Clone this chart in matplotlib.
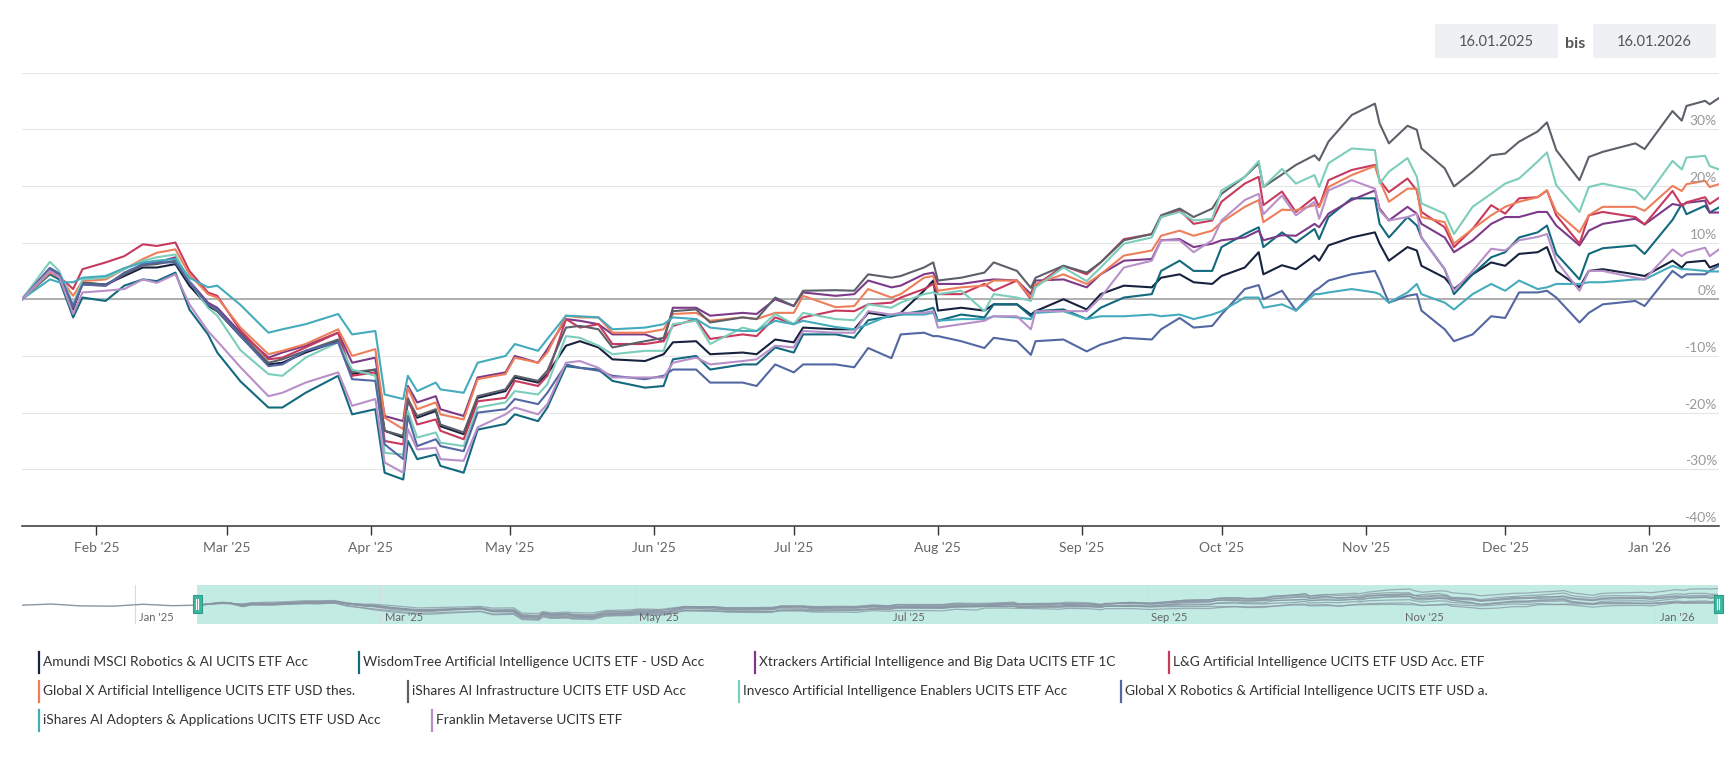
import matplotlib
matplotlib.use('Agg')
import matplotlib.pyplot as plt
import matplotlib.dates as mdates
from matplotlib.patches import Rectangle
import pandas as pd

plt.rcParams['font.family'] = ['Lato', 'DejaVu Sans']

# performance in % since 16.01.2025
dates = ['2025-01-16', '2025-01-22', '2025-01-24', '2025-01-27', '2025-01-29', '2025-02-03', '2025-02-07', '2025-02-11', '2025-02-14', '2025-02-18',
         '2025-02-21', '2025-02-25', '2025-02-27', '2025-03-04', '2025-03-10', '2025-03-13', '2025-03-18', '2025-03-25', '2025-03-28', '2025-04-02',
         '2025-04-04', '2025-04-08', '2025-04-09', '2025-04-11', '2025-04-15', '2025-04-16', '2025-04-21', '2025-04-24', '2025-04-30', '2025-05-02',
         '2025-05-07', '2025-05-09', '2025-05-13', '2025-05-16', '2025-05-20', '2025-05-23', '2025-05-30', '2025-06-03', '2025-06-05', '2025-06-10',
         '2025-06-13', '2025-06-20', '2025-06-23', '2025-06-27', '2025-07-01', '2025-07-03', '2025-07-10', '2025-07-14', '2025-07-17', '2025-07-22',
         '2025-07-24', '2025-07-29', '2025-07-31', '2025-08-01', '2025-08-06', '2025-08-11', '2025-08-13', '2025-08-18', '2025-08-21', '2025-08-22',
         '2025-08-28', '2025-09-02', '2025-09-05', '2025-09-10', '2025-09-16', '2025-09-18', '2025-09-22', '2025-09-25', '2025-09-29', '2025-10-01',
         '2025-10-06', '2025-10-09', '2025-10-10', '2025-10-14', '2025-10-17', '2025-10-21', '2025-10-22', '2025-10-24', '2025-10-29', '2025-11-03',
         '2025-11-04', '2025-11-06', '2025-11-10', '2025-11-12', '2025-11-13', '2025-11-18', '2025-11-20', '2025-11-24', '2025-11-28', '2025-12-01',
         '2025-12-04', '2025-12-08', '2025-12-10', '2025-12-12', '2025-12-17', '2025-12-19', '2025-12-22', '2025-12-29', '2025-12-31', '2026-01-06',
         '2026-01-08', '2026-01-09', '2026-01-13', '2026-01-14', '2026-01-16']

amundi = [0, 5.3, 4.4, -1.8, 2.9, 2.6, 4.1, 5.6, 5.6, 6.2,
          2.4, -1.2, -2.1, -6.5, -11.5, -11.2, -9.4, -7.4, -13.2, -12.4,
          -23.2, -24.4, -17.9, -20.9, -19.7, -22.4, -23.8, -17.4, -16.2, -13.8,
          -14.7, -13.2, -8.2, -7.4, -8.5, -10.6, -10.9, -9.7, -7.6, -7.4,
          -9.7, -9.4, -9.7, -7.1, -7.6, -5.0, -5.3, -5.3, -2.4, -3.0,
          -2.4, 1.5, 3.3, -2.0, -1.5, -2.0, -0.9, -0.9, -2.7, -2.1,
          0.0, -1.8, 0.9, 2.4, 2.1, 3.8, 4.4, 3.0, 2.7, 4.1,
          5.6, 8.3, 4.4, 6.0, 5.3, 7.7, 6.8, 9.5, 10.9, 11.8,
          9.8, 6.8, 9.2, 8.6, 5.9, 3.8, 1.8, 4.4, 6.5, 5.9,
          8.0, 8.3, 9.2, 5.0, 2.1, 5.0, 5.3, 4.4, 4.1, 6.8,
          5.6, 6.5, 6.8, 5.6, 6.2]
wisdomtree = [0, 4.4, 3.5, -3.2, 0.3, -0.3, 2.4, 3.5, 3.2, 4.7,
              -1.8, -6.2, -9.4, -14.5, -19.1, -19.1, -16.5, -13.5, -20.3, -19.4,
              -30.6, -31.8, -25.0, -28.2, -27.4, -29.4, -30.6, -23.0, -22.0, -20.3,
              -21.5, -19.1, -11.8, -12.1, -12.4, -14.4, -15.6, -15.3, -10.6, -10.0,
              -12.4, -11.5, -11.5, -8.5, -9.4, -6.2, -6.2, -6.8, -3.7, -3.0,
              -2.7, -2.0, -1.5, -3.8, -2.7, -3.2, -0.9, -0.9, -3.0, -2.1,
              -1.8, -3.5, -1.5, 0.3, 0.9, 5.0, 6.8, 5.0, 5.0, 9.2,
              11.5, 12.7, 9.2, 11.8, 10.0, 12.4, 10.6, 14.5, 17.8, 17.8,
              13.3, 10.9, 14.5, 13.0, 10.9, 5.3, 0.9, 4.4, 7.4, 8.3,
              10.9, 11.8, 13.0, 8.0, 3.5, 8.0, 9.0, 9.5, 8.0, 14.0,
              16.8, 15.0, 16.5, 15.3, 16.2]
xtrackers = [0, 5.5, 4.5, -1.5, 2.6, 2.4, 4.4, 6.2, 6.5, 7.4,
             3.2, -0.6, -1.5, -5.9, -10.3, -9.4, -8.2, -5.9, -11.2, -10.3,
             -20.6, -21.5, -15.3, -18.2, -17.1, -19.4, -20.6, -13.8, -12.9, -10.0,
             -11.2, -8.8, -3.5, -3.8, -4.4, -6.2, -6.2, -7.4, -1.5, -1.5,
             -2.9, -2.4, -2.6, 0.0, -1.2, 1.2, 0.6, 0.9, 3.3, 2.1,
             2.4, 4.4, 4.7, 2.7, 2.7, 3.3, 3.5, 3.3, 0.9, 3.3,
             3.5, 2.1, 4.4, 6.8, 7.1, 10.4, 10.6, 9.2, 9.8, 10.4,
             10.9, 12.1, 10.4, 11.3, 11.2, 13.3, 12.7, 15.1, 17.5, 19.2,
             16.0, 13.9, 16.3, 15.1, 13.3, 10.9, 8.3, 10.4, 13.3, 14.5,
             14.5, 15.4, 15.4, 13.0, 9.5, 12.1, 13.3, 14.2, 13.2, 16.8,
             16.5, 17.0, 17.4, 15.3, 15.3]
lg = [0, 5.0, 4.0, 1.8, 5.3, 6.5, 7.6, 9.7, 9.4, 10.0,
      5.0, 1.2, 0.6, -5.5, -10.6, -10.3, -8.5, -5.9, -13.5, -12.9,
      -25.0, -25.6, -17.4, -22.1, -21.2, -23.2, -24.7, -18.0, -17.4, -14.4,
      -15.3, -13.5, -3.5, -5.0, -4.4, -7.9, -7.9, -7.4, -4.7, -3.5,
      -7.0, -6.2, -6.5, -3.2, -4.4, -3.2, -2.0, -2.1, -0.9, -0.6,
      0.3, 1.8, 2.7, 0.9, 0.9, 2.7, 1.5, 3.3, 0.0, 2.4,
      5.9, 4.4, 6.5, 10.6, 11.5, 14.5, 15.7, 13.3, 13.9, 17.2,
      20.4, 21.6, 16.6, 19.0, 15.4, 18.0, 16.3, 21.0, 22.8, 23.7,
      21.0, 18.9, 21.3, 19.2, 15.4, 12.7, 9.2, 12.4, 16.6, 15.1,
      17.8, 18.0, 19.2, 14.8, 9.8, 14.8, 15.4, 14.5, 13.2, 19.1,
      16.5, 17.1, 18.0, 16.8, 17.9]
globalx_ai = [0, 4.7, 4.0, 0.6, 3.2, 3.5, 5.3, 7.1, 8.2, 8.8,
              4.4, 0.9, 0.3, -5.0, -9.7, -9.1, -7.9, -5.3, -10.0, -8.8,
              -20.9, -22.9, -15.6, -19.4, -18.2, -20.3, -21.2, -14.1, -13.2, -10.3,
              -11.2, -9.4, -2.9, -3.2, -3.2, -5.9, -5.9, -5.3, -2.6, -2.4,
              -3.8, -3.2, -3.5, -2.4, -2.4, 0.6, -1.4, -1.2, 1.8, 0.3,
              0.9, 3.8, 4.1, 1.5, 2.1, 2.4, 3.3, 3.3, 0.3, 2.7,
              4.4, 2.7, 4.4, 7.7, 8.6, 11.2, 12.1, 11.2, 12.1, 13.6,
              16.3, 17.5, 13.6, 15.8, 15.7, 16.6, 16.3, 19.8, 21.9, 23.5,
              21.0, 17.2, 19.5, 19.5, 14.5, 13.6, 9.8, 12.4, 14.8, 16.3,
              17.2, 18.0, 19.2, 15.4, 11.8, 14.8, 16.3, 16.3, 15.6, 20.0,
              19.1, 20.3, 20.9, 19.8, 20.3]
ishares_infra = [0, 5.3, 4.4, -1.5, 2.9, 2.6, 4.4, 6.0, 6.2, 6.8,
                 3.0, -0.9, -2.1, -6.2, -11.2, -10.6, -9.1, -7.1, -12.9, -12.4,
                 -23.2, -24.1, -17.6, -20.6, -19.4, -22.1, -23.5, -17.1, -15.9, -13.5,
                 -14.4, -12.6, -5.0, -4.7, -5.3, -8.5, -7.4, -6.8, -2.1, -1.8,
                 -4.1, -3.2, -3.5, 0.3, -1.2, 1.5, 1.6, 1.5, 4.4, 3.8,
                 4.1, 5.6, 6.5, 3.3, 3.8, 4.7, 6.5, 5.0, 2.0, 3.8,
                 5.9, 4.7, 6.5, 10.4, 11.5, 14.8, 16.0, 14.5, 16.0, 18.6,
                 21.6, 24.0, 19.8, 22.0, 23.7, 25.4, 24.5, 27.8, 32.5, 34.5,
                 31.0, 27.5, 30.6, 29.9, 26.6, 23.1, 19.9, 22.5, 25.4, 25.7,
                 27.8, 29.6, 31.2, 26.3, 21.0, 25.1, 26.0, 27.5, 26.5, 33.2,
                 31.5, 34.1, 35.0, 34.4, 35.5]
invesco = [0, 6.6, 5.0, -0.9, 3.5, 3.8, 5.3, 6.8, 7.4, 7.9,
           3.2, -1.5, -2.9, -9.0, -13.2, -13.5, -10.3, -7.6, -12.4, -13.5,
           -27.1, -27.4, -19.7, -24.4, -23.5, -25.3, -25.9, -19.1, -18.2, -16.2,
           -16.8, -15.0, -6.5, -6.8, -8.2, -9.7, -9.1, -9.1, -4.4, -3.8,
           -7.9, -5.0, -5.6, -2.6, -4.4, -2.4, -3.5, -3.7, -0.9, -1.5,
           -0.6, 0.9, 1.2, 0.9, 1.5, -2.1, 0.9, 0.3, -0.3, 2.1,
           5.6, 3.2, 5.6, 9.8, 10.9, 14.5, 15.4, 13.9, 14.2, 19.2,
           21.6, 24.4, 19.8, 23.0, 20.4, 21.9, 19.8, 24.0, 26.6, 26.3,
           20.4, 22.5, 24.9, 21.6, 16.9, 15.1, 11.5, 16.3, 18.6, 20.4,
           21.3, 24.3, 25.9, 20.1, 15.4, 19.8, 20.4, 19.2, 17.6, 24.4,
           22.9, 25.0, 25.3, 23.5, 22.9]
globalx_robotics = [0, 5.5, 4.5, -1.2, 2.6, 2.4, 4.7, 6.2, 6.5, 6.5,
                    3.0, -0.9, -1.8, -6.5, -11.8, -11.5, -9.1, -7.6, -14.1, -14.4,
                    -25.6, -28.2, -20.6, -25.9, -24.7, -25.9, -26.8, -20.0, -19.4, -17.6,
                    -18.5, -16.5, -11.5, -12.1, -12.6, -13.5, -14.1, -13.5, -12.4, -12.4,
                    -14.7, -14.7, -15.3, -11.5, -12.9, -11.5, -11.5, -12.0, -8.6, -10.4,
                    -6.2, -5.9, -6.5, -6.5, -7.4, -8.6, -6.8, -7.4, -9.8, -7.4,
                    -7.1, -9.2, -8.0, -6.8, -7.1, -5.3, -3.3, -5.0, -4.7, -2.7,
                    1.8, 2.5, 0.0, 1.5, -2.0, 1.5, 2.0, 3.3, 4.4, 5.0,
                    3.3, -0.6, 0.6, 0.9, -2.0, -5.3, -7.4, -6.2, -3.0, -3.3,
                    1.2, 1.2, 1.5, 0.3, -4.1, -2.4, -0.9, -0.3, -1.2, 5.0,
                    3.8, 4.4, 4.4, 5.0, 5.9]
ishares_adopters = [0, 3.5, 3.0, 3.0, 3.8, 4.1, 5.5, 6.5, 6.8, 7.1,
                    3.8, 2.1, 2.4, -1.0, -5.9, -5.3, -4.4, -2.6, -6.2, -5.6,
                    -16.8, -17.6, -13.5, -16.2, -14.7, -15.9, -16.5, -11.2, -10.0, -7.9,
                    -9.1, -7.0, -2.9, -3.0, -3.2, -5.3, -5.0, -4.4, -3.2, -3.5,
                    -5.0, -5.6, -5.6, -3.8, -4.4, -3.8, -4.9, -5.3, -4.4, -2.7,
                    -2.7, -2.7, -2.4, -3.8, -3.5, -3.5, -3.0, -3.2, -3.5, -2.4,
                    -2.1, -3.5, -3.0, -3.0, -2.7, -3.0, -2.7, -3.5, -2.7, -2.1,
                    0.3, 0.3, -1.5, -0.9, -2.0, 0.9, 0.9, 1.2, 1.8, 1.2,
                    0.9, -0.6, 1.2, 2.7, 0.9, -0.6, -1.8, 0.9, 2.7, 1.5,
                    3.3, 1.8, 2.1, 2.7, 2.7, 3.0, 3.0, 3.5, 3.5, 5.9,
                    5.3, 5.3, 5.0, 4.9, 4.9]
franklin = [0, 5.0, 4.0, -2.6, 1.2, 1.5, 1.8, 3.5, 2.9, 4.4,
            -0.9, -5.6, -7.4, -12.0, -17.1, -16.5, -14.7, -12.9, -18.8, -17.6,
            -28.8, -30.6, -22.9, -26.5, -26.2, -28.2, -28.5, -22.6, -20.3, -19.1,
            -20.3, -18.5, -11.2, -10.9, -12.1, -13.8, -13.8, -13.8, -11.2, -10.3,
            -11.5, -10.9, -10.6, -8.2, -8.5, -5.6, -5.9, -5.9, -2.1, -2.7,
            -2.4, -2.4, -2.1, -5.0, -4.4, -3.8, -3.0, -3.0, -5.3, -2.1,
            -2.1, -2.1, 0.3, 5.6, 6.8, 10.4, 10.4, 8.3, 10.4, 13.9,
            17.5, 18.6, 15.0, 18.3, 14.8, 17.2, 14.2, 19.2, 21.0, 19.5,
            15.7, 13.9, 14.5, 15.1, 10.9, 5.3, 1.5, 5.0, 8.9, 8.6,
            10.4, 11.0, 11.5, 6.8, 1.5, 5.0, 5.0, 3.8, 3.5, 8.8,
            7.6, 8.2, 9.1, 7.6, 8.8]

names = ['Amundi MSCI Robotics & AI UCITS ETF Acc',
         'WisdomTree Artificial Intelligence UCITS ETF - USD Acc',
         'Xtrackers Artificial Intelligence and Big Data UCITS ETF 1C',
         'L&G Artificial Intelligence UCITS ETF USD Acc. ETF',
         'Global X Artificial Intelligence UCITS ETF USD thes.',
         'iShares AI Infrastructure UCITS ETF USD Acc',
         'Invesco Artificial Intelligence Enablers UCITS ETF Acc',
         'Global X Robotics & Artificial Intelligence UCITS ETF USD a.',
         'iShares AI Adopters & Applications UCITS ETF USD Acc',
         'Franklin Metaverse UCITS ETF']
colors = ['#17223f', '#13697d', '#7d3a88', '#c73a5e', '#ee7e5a',
          '#5c6069', '#7ccdbb', '#5367a2', '#44abbd', '#b88fc8']
series = [amundi, wisdomtree, xtrackers, lg, globalx_ai,
          ishares_infra, invesco, globalx_robotics, ishares_adopters, franklin]

# navigator only: period before the selected range
nav_pre_dates = ['2024-12-05', '2024-12-12', '2024-12-19', '2024-12-27', '2025-01-03', '2025-01-10', '2025-01-16']
nav_pre_vals = [0.0, 2.5, -1.5, -2.0, 2.0, -1.0, 0.0]
nav_months = ['2025-01-01', '2025-03-01', '2025-05-01', '2025-07-01', '2025-09-01', '2025-11-01', '2026-01-01']

W, H = 1725, 767
fig = plt.figure(figsize=(W / 100, H / 100), dpi=100)


def fx(px):
    return px / W


def fy(py):
    return 1 - py / H


x = pd.to_datetime(dates)
start, end = pd.Timestamp('2025-01-16'), pd.Timestamp('2026-01-16')

# main chart
ax = fig.add_axes([fx(22), fy(526), fx(1719) - fx(22), fy(72.5) - fy(526)])
for vals, col in zip(series, colors):
    ax.plot(x, vals, color=col, lw=1.5, zorder=3)
ax.set_xlim(start, end)
ax.set_ylim(-40, 40)
ax.set_yticks(range(-40, 41, 10))
ax.yaxis.grid(True, color='#e6e6e6', lw=0.8)
ax.axhline(0, color='#ababab', lw=1.3, zorder=2)
ax.tick_params(axis='y', length=0, labelleft=False)
for s in ['top', 'left', 'right']:
    ax.spines[s].set_visible(False)
ax.spines['bottom'].set_color('#333333')
ax.spines['bottom'].set_linewidth(1.1)
ax.xaxis.set_major_locator(mdates.MonthLocator())
ax.xaxis.set_major_formatter(mdates.DateFormatter("%b '%y"))
ax.tick_params(axis='x', length=6.5, width=1, color='#333333',
               labelcolor='#666666', labelsize=10, pad=5)
for v in range(-40, 40, 10):
    ax.text(0.9988, v + 0.35, f'{v}%', transform=ax.get_yaxis_transform(),
            ha='right', va='bottom', fontsize=10, color='#999999')

# navigator
nav = fig.add_axes([fx(22), fy(624), fx(1718) - fx(22), fy(585) - fy(624)])
nav.set_xlim(pd.Timestamp('2024-12-05'), end)
nav.set_ylim(-40, 43)
nav.axvspan(start, end, color='#c2ebe4', lw=0, zorder=0)
for m, lab in zip(pd.to_datetime(nav_months), ["Jan '25", "Mar '25", "May '25", "Jul '25", "Sep '25", "Nov '25", "Jan '26"]):
    nav.axvline(m, color='#d8dcdc', lw=0.8, zorder=1)
    nav.text(m + pd.Timedelta(days=1), -26, lab, fontsize=8, color='#666666',
             ha='left', va='center', zorder=4)
nav.plot(pd.to_datetime(nav_pre_dates), nav_pre_vals, color='#8a96a4', lw=1.0, zorder=2)
for vals in series:
    nav.plot(x, vals, color='#8a96a4', lw=0.9, alpha=0.75, zorder=2)
nav.axis('off')

fig.canvas.draw()
for d in (start, end):
    px = nav.transData.transform((mdates.date2num(d), 0))[0]
    hx = min(px, W - 6)
    fig.patches.append(Rectangle((fx(hx - 4.5), fy(613)), fx(9), fy(595) - fy(613),
                                 transform=fig.transFigure, facecolor='#3bb79f',
                                 edgecolor='#2e9c87', lw=0.8, zorder=5))
    for off in (-1.2, 1.2):
        fig.lines.append(plt.Line2D([fx(hx + off), fx(hx + off)], [fy(609), fy(599)],
                                    transform=fig.transFigure, color='white', lw=0.8, zorder=6))

# date range inputs
for bx, label in [(1435, '16.01.2025'), (1593, '16.01.2026')]:
    fig.patches.append(Rectangle((fx(bx), fy(58)), fx(123), fy(24) - fy(58),
                                 transform=fig.transFigure, facecolor='#eef0f4', lw=0))
    fig.text(fx(bx + 61.5), fy(42), label, ha='center', va='center', fontsize=10.5, color='#555555')
fig.text(fx(1575), fy(44), 'bis', ha='center', va='center', fontsize=11.5,
         fontweight='bold', color='#555555')

# legend
legend_pos = [(39, 662), (359, 662), (755, 662), (1169, 662),
              (39, 691), (408, 691), (739, 691), (1121, 691),
              (39, 720), (432, 720)]
for (lx, ly), name, col in zip(legend_pos, names, colors):
    fig.lines.append(plt.Line2D([fx(lx), fx(lx)], [fy(ly + 10.5), fy(ly - 10.5)],
                                transform=fig.transFigure, color=col, lw=1.6))
    fig.text(fx(lx + 4), fy(ly), name, ha='left', va='center', fontsize=9.9, color='#333333')

fig.savefig('out.png', dpi=100, facecolor='white')
